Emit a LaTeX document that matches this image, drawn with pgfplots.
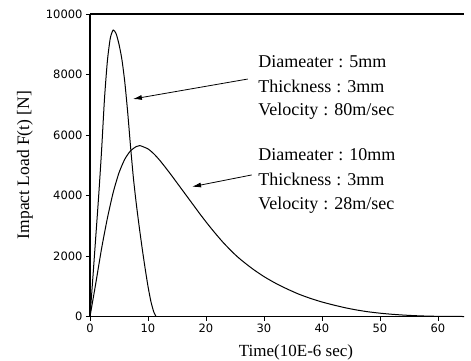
\documentclass[border=0pt]{standalone}
\usepackage{pgfplots}
\pgfplotsset{compat=1.18}
\usetikzlibrary{arrows.meta}
\usepackage{fontspec}
\setmainfont{Liberation Serif}
\newfontfamily\tickfont{DejaVu Sans}
\begin{document}
\begin{tikzpicture}
\begin{axis}[
  at={(0,0)}, anchor=south west,
  scale only axis, width=374pt, height=302.5pt,
  xmin=0, xmax=64.5, ymin=0, ymax=10000,
  axis x line*=bottom, axis y line*=left,
  axis line style={line width=1.2pt},
  xtick={0,10,...,60}, ytick={0,2000,...,10000},
  scaled y ticks=false,
  /pgf/number format/set thousands separator={},
  /pgf/number format/assume math mode=true,
  tick label style={font=\tickfont\fontsize{11.5}{13}\selectfont},
  tick align=outside, major tick length=4pt,
  every tick/.style={black, line width=0.8pt},
  clip=false,
]
\addplot[black, line width=1pt, smooth, tension=0.4] table {
x y
0 0
0.5 1300
1.0 2650
1.5 4000
2.0 5500
2.5 7200
3.0 8450
3.5 9200
4.0 9470
4.5 9350
5.0 9000
5.5 8500
6.0 7750
6.5 6750
7.0 5600
7.5 4550
8.0 3700
8.5 2950
9.0 2250
9.5 1600
10.0 1000
10.5 500
11.0 150
11.4 0
};
\addplot[black, line width=1pt, smooth, tension=0.4] table {
x y
0 0
1 1100
2 2250
3 3250
4 4100
5 4750
6 5200
7 5480
8 5620
8.6 5650
10 5540
11 5380
12 5170
13 4930
14 4680
15 4420
16 4160
17 3900
18 3640
19 3380
20 3130
21 2890
22 2660
23 2440
24 2240
25 2050
26 1880
28 1580
30 1320
32 1100
34 910
36 740
38 600
40 480
42 380
44 290
46 215
48 155
50 110
52 75
54 48
56 28
58 14
60 6
62 2
64.5 0
};
\draw[line width=1.2pt] (rel axis cs:0,1) -- (rel axis cs:1,1);
\draw[line width=0.8pt, -{Latex[length=9pt,width=5pt]}] (axis cs:27.2,7850) -- (axis cs:7.4,7190);
\draw[line width=0.8pt, -{Latex[length=9pt,width=5pt]}] (axis cs:27.9,4680) -- (axis cs:17.6,4290);
\begin{scope}[every node/.style={anchor=base west, inner sep=0pt, font=\fontsize{18}{20}\selectfont}]
\node at (axis cs:29,8215) {Diameater\hspace{5pt}:\hspace{6pt}5mm};
\node at (axis cs:29,7398) {Thickness\hspace{5pt}:\hspace{6pt}3mm};
\node at (axis cs:29,6661) {Velocity\hspace{5pt}:\hspace{6pt}80m/sec};
\node at (axis cs:29,5150) {Diameater\hspace{5pt}:\hspace{6pt}10mm};
\node at (axis cs:29,4324) {Thickness\hspace{5pt}:\hspace{6pt}3mm};
\node at (axis cs:29,3521) {Velocity\hspace{5pt}:\hspace{6pt}28m/sec};
\end{scope}
\end{axis}
\node[rotate=90, font=\fontsize{17.5}{20}\selectfont] at (-65pt,151.5pt) {Impact Load F(t) [N]};
\node[anchor=base, font=\fontsize{17}{20}\selectfont] at (206pt,-39.5pt) {Time(10E-6 sec)};
\pgfresetboundingbox
\path (-90pt,-43.5pt) rectangle (381pt,316.5pt);
\end{tikzpicture}
\end{document}
